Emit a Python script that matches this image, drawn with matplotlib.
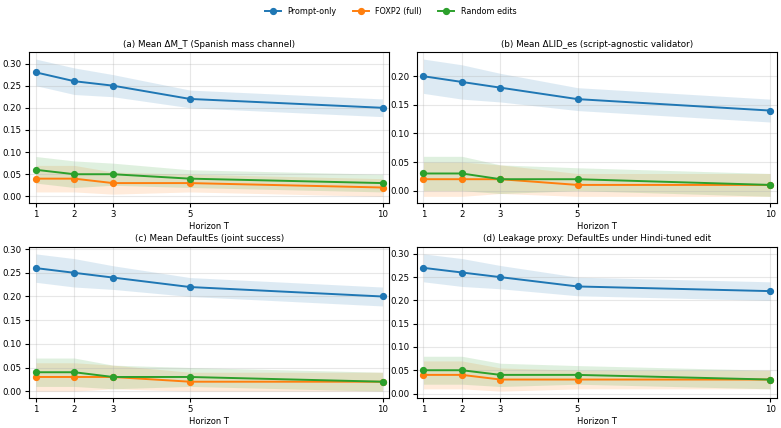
import numpy as np
import matplotlib
matplotlib.use("Agg")
import matplotlib.pyplot as plt

horizons = [1, 2, 3, 5, 10]
band = [0.03, 0.03, 0.025, 0.02, 0.02]

titles = [
    "(a) Mean ΔM_T (Spanish mass channel)",
    "(b) Mean ΔLID_es (script-agnostic validator)",
    "(c) Mean DefaultEs (joint success)",
    "(d) Leakage proxy: DefaultEs under Hindi-tuned edit",
]
methods = ["Prompt-only", "FOXP2 (full)", "Random edits"]
colors = ["#1f77b4", "#ff7f0e", "#2ca02c"]

prompt_only = [
    [0.28, 0.26, 0.25, 0.22, 0.20],
    [0.20, 0.19, 0.18, 0.16, 0.14],
    [0.26, 0.25, 0.24, 0.22, 0.20],
    [0.27, 0.26, 0.25, 0.23, 0.22],
]
foxp2 = [
    [0.04, 0.04, 0.03, 0.03, 0.02],
    [0.02, 0.02, 0.02, 0.01, 0.01],
    [0.03, 0.03, 0.03, 0.02, 0.02],
    [0.04, 0.04, 0.03, 0.03, 0.03],
]
random_edits = [
    [0.06, 0.05, 0.05, 0.04, 0.03],
    [0.03, 0.03, 0.02, 0.02, 0.01],
    [0.04, 0.04, 0.03, 0.03, 0.02],
    [0.05, 0.05, 0.04, 0.04, 0.03],
]

fig, axes = plt.subplots(2, 2, figsize=(7.81, 4.28), dpi=100)
fig.subplots_adjust(left=0.037, right=0.995, top=0.878, bottom=0.07,
                    hspace=0.29, wspace=0.075)

h = np.array(horizons)
e = np.array(band)
for i, ax in enumerate(axes.flat):
    series = [prompt_only[i], foxp2[i], random_edits[i]]
    for name, vals, c in zip(methods, series, colors):
        v = np.array(vals)
        ax.fill_between(h, v - e, v + e, color=c, alpha=0.15, linewidth=0)
        ax.plot(h, v, marker="o", color=c, lw=1.4, ms=4.2, label=name)
    ax.set_title(titles[i], fontsize=6.3, pad=4)
    ax.set_xticks(horizons)
    ax.set_xmargin(0.02)
    ax.set_xlabel("Horizon T", fontsize=6.0, labelpad=2)
    ax.tick_params(labelsize=6.2, length=3, pad=2)
    ax.grid(True, alpha=0.3)

handles, labels = axes[0, 0].get_legend_handles_labels()
fig.legend(handles, labels, loc="upper center", ncol=3, frameon=False,
           fontsize=5.8, bbox_to_anchor=(0.5, 1.0))

fig.savefig("out.png", dpi=100)
